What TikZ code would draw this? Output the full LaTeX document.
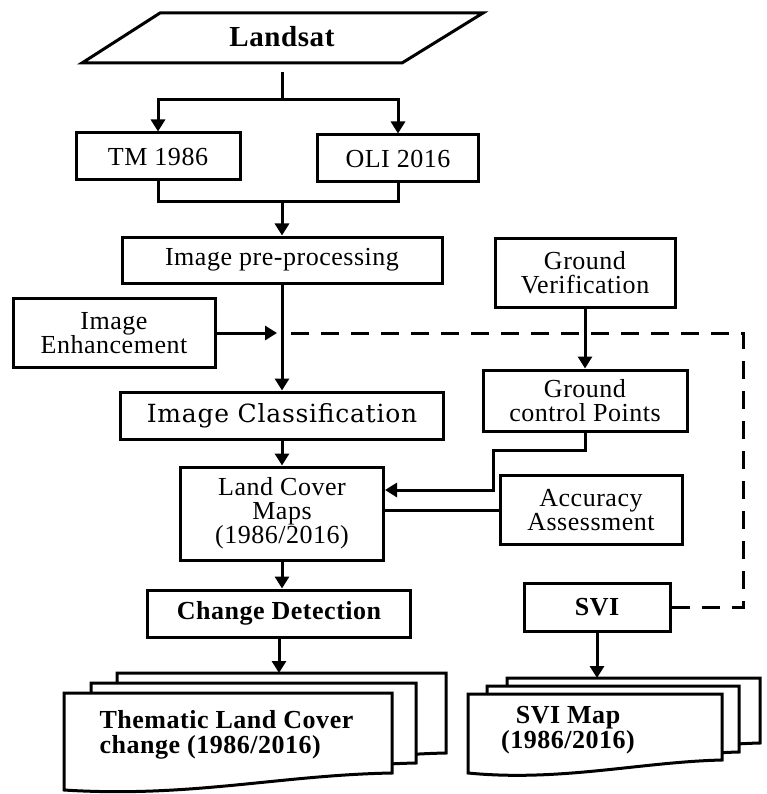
\documentclass[tikz,border=0pt]{standalone}
\usepackage{fontspec}
\setmainfont{Liberation Serif}[LetterSpace=2]
\newfontfamily\clsfont{DejaVu Serif}[LetterSpace=3]
\usetikzlibrary{arrows.meta}
\newcommand\mysz{\fontsize{26}{24}\selectfont}
\begin{document}
\begin{tikzpicture}[x=1pt,y=-1pt,
  box/.style={draw, line width=3pt, fill=white, inner sep=2pt, align=center, font=\mysz},
  arr/.style={line width=3pt, -{Triangle[width=14pt,length=12pt]}},
  conn/.style={line width=3pt},
  dashline/.style={line width=3pt, dash pattern=on 18pt off 12pt},
  docshape/.style={draw, line width=3pt, fill=white, line join=miter}]
\useasboundingbox[fill=white] (0,0) rectangle (766,794);

% Landsat parallelogram
\draw[line width=3pt, line join=miter] (160,13) -- (483,13) -- (402,63) -- (82,63) -- cycle;
\node[minimum height=70pt, minimum width=200pt, font=\fontsize{29}{29}\selectfont\bfseries] (landsat) at (282,37) {Landsat};

% boxes
\node[box, minimum width=164pt, minimum height=47pt] (tm) at (158,156.5) {TM 1986};
\node[box, minimum width=161pt, minimum height=47pt] (oli) at (398,158.5) {OLI 2016};
\node[box, minimum width=320pt, minimum height=46pt] (pre) at (282,260) {Image pre-processing};
\node[box, minimum width=180pt, minimum height=69pt] (gv) at (585,272.5) {Ground\\Verification};
\node[box, minimum width=202pt, minimum height=69pt] (enh) at (114,333) {Image\\Enhancement};
\node[box, minimum width=323pt, minimum height=47pt, font=\clsfont\fontsize{25}{25}\selectfont] (cls) at (282,415.5) {Image Classification};
\node[box, minimum width=204pt, minimum height=61pt] (gcp) at (585,400.5) {Ground\\control Points};
\node[box, minimum width=203pt, minimum height=93pt] (lcm) at (282,513.5) {Land Cover\\Maps\\(1986/2016)};
\node[box, minimum width=182pt, minimum height=69pt] (acc) at (591,510) {Accuracy\\Assessment};
\node[box, minimum width=263pt, minimum height=47pt, font=\mysz\bfseries] (cd) at (279,613.5) {Change Detection};
\node[box, minimum width=146pt, minimum height=48pt, font=\mysz\bfseries] (svi) at (597,607) {SVI};

% document stacks: Thematic
\draw[docshape] (117,673) -- (446,673) -- (446,753) .. controls (346,755) and (244,778) .. (117,770) -- cycle;
\draw[docshape] (91,683) -- (416,683) -- (416,763) .. controls (316,765) and (216,788) .. (91,780) -- cycle;
\draw[docshape] (64,693) -- (392,693) -- (392,773) .. controls (280,775) and (190,798) .. (64,790) -- cycle;
\node[anchor=west, align=left, font=\fontsize{26}{25}\selectfont\bfseries] (thtext) at (96,735) {Thematic Land Cover\\change (1986/2016)};

% document stacks: SVI Map
\draw[docshape] (507,678) -- (760,678) -- (760,743) .. controls (678,745) and (598,765) .. (507,756) -- cycle;
\draw[docshape] (487,686) -- (739,686) -- (739,752) .. controls (657,754) and (577,774) .. (487,765) -- cycle;
\draw[docshape] (468,694) -- (722,694) -- (722,760) .. controls (640,762) and (560,782) .. (468,773) -- cycle;
\node[align=center, font=\fontsize{26}{25}\selectfont\bfseries] (svitext) at (568,730) {SVI Map\\(1986/2016)};

% connectors
\coordinate (j1) at (282,100);
\draw[conn] (landsat.south) -- (j1);
\draw[arr] (j1) -| (tm.north);
\draw[arr] (j1) -| (oli.north);
\coordinate (j2) at (282,202);
\draw[conn] (tm.south) |- (j2) -| (oli.south);
\draw[arr] (j2) -- (pre.north);
\draw[arr] (pre.south) -- (cls.north);
\coordinate (emid) at (277,333);
\draw[arr] (enh.east) -- (emid);
\coordinate (dstart) at (290,333);
\coordinate (dcorner) at (743,333);
\draw[dashline] (svi.east) -| (dcorner) -- (dstart);
\draw[arr] (gv.south) -- (gcp.north);
\coordinate (g1) at (493,450);
\coordinate (g2) at (493,490);
\draw[arr] (gcp.south) |- (g1) -- (g2) -- (g2 -| lcm.east);
\draw[conn] (acc.west) -- (acc.west -| lcm.east);
\draw[arr] (cls.south) -- (lcm.north);
\draw[arr] (lcm.south) -- (lcm.south |- cd.north);
\coordinate (thtop) at (280,673);
\draw[arr] (cd.south) -- (cd.south |- thtop);
\coordinate (svitop) at (599,678);
\draw[arr] (svi.south) -- (svi.south |- svitop);
\end{tikzpicture}
\end{document}
